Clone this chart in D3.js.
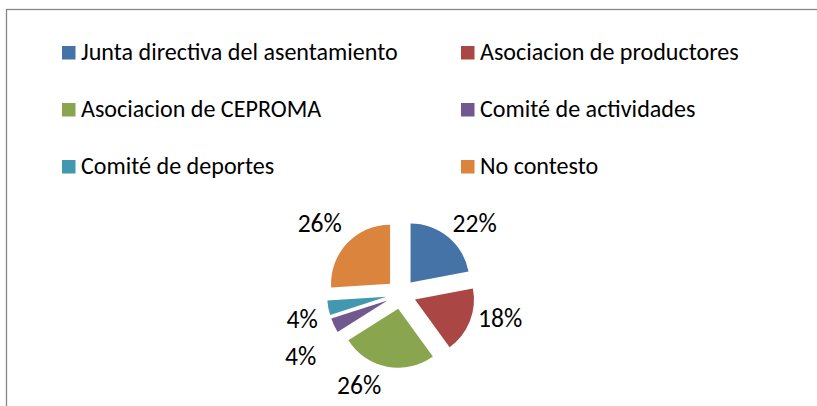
<!DOCTYPE html>
<html>
<head>
<meta charset="utf-8">
<script src="https://cdn.jsdelivr.net/npm/d3@7"></script>
<style>
  body { margin: 0; background: #fff; }
  svg text { font-family: Carlito, Calibri, Lato, sans-serif; fill: #000; }
</style>
</head>
<body>
<script>
// Data
const categories = ['Junta directiva del asentamiento', 'Asociacion de productores', 'Asociacion de CEPROMA',
  'Comité de actividades', 'Comité de deportes', 'No contesto'];
const values = [22, 18, 26, 4, 4, 26];
const colors = ['#4572a7', '#aa4643', '#89a54e', '#71588f', '#4198af', '#db843d'];

// Layout
const w = 817, h = 406;
const cx = 401, cy = 294, r = 59, explode = 15;
const labelR = 102;
// best-fit nudges for the percent labels (degrees, px)
const labelAngle = [6.6, -8, 14, -6.6, -3.4, -2];
const labelDr = [0, 0, -2, 16, 0, 6];

var svg = d3.select('body')
  .append('svg')
  .attr('width', w)
  .attr('height', h);

// chart frame
svg.append('rect')
  .attr('x', 6.5).attr('y', 9.5)
  .attr('width', w + 10).attr('height', h + 10)
  .attr('fill', '#fff')
  .attr('stroke', '#868686')
  .attr('stroke-width', 1.3);

// fit font size so the longest legend entry matches the reference width
var probe = svg.append('text').style('font-size', '24px').text(categories[0]);
var k = 317 / probe.node().getComputedTextLength();
probe.remove();
var legendSize = 24 * k;
var labelSize = 25.5 * k;

// Legend
var legend = svg.selectAll('g.legend')
  .data(categories)
  .enter()
  .append('g')
  .attr('class', 'legend')
  .attr('transform', (d, i) => 'translate(' + [62, 461][i % 2] + ',' + (46 + Math.floor(i / 2) * 57) + ')');

legend.append('rect')
  .attr('width', 13.5).attr('height', 13.5)
  .attr('fill', (d, i) => colors[i]);

legend.append('text')
  .attr('x', 19)
  .attr('y', 13.5)
  .style('font-size', legendSize + 'px')
  .text(d => d);

// Pie
var pie = d3.pie().sort(null).value(d => d);
var arc = d3.arc().innerRadius(0).outerRadius(r);
var arcs = pie(values);
var total = d3.sum(values);
var fmt = d3.format('.0%');

var g = svg.append('g').attr('transform', 'translate(' + cx + ',' + cy + ')');

g.selectAll('path')
  .data(arcs)
  .enter()
  .append('path')
  .attr('d', arc)
  .attr('fill', (d, i) => colors[i])
  .attr('transform', d => {
    var a = (d.startAngle + d.endAngle) / 2;
    return 'translate(' + explode * Math.sin(a) + ',' + (-explode * Math.cos(a)) + ')';
  });

g.selectAll('text.pct')
  .data(arcs)
  .enter()
  .append('text')
  .attr('class', 'pct')
  .attr('text-anchor', 'middle')
  .attr('dy', '0.35em')
  .style('font-size', labelSize + 'px')
  .attr('x', (d, i) => {
    var a = (d.startAngle + d.endAngle) / 2 + labelAngle[i] * Math.PI / 180;
    return (labelR + labelDr[i]) * Math.sin(a);
  })
  .attr('y', (d, i) => {
    var a = (d.startAngle + d.endAngle) / 2 + labelAngle[i] * Math.PI / 180;
    return -(labelR + labelDr[i]) * Math.cos(a);
  })
  .text(d => fmt(d.value / total));
</script>
</body>
</html>
